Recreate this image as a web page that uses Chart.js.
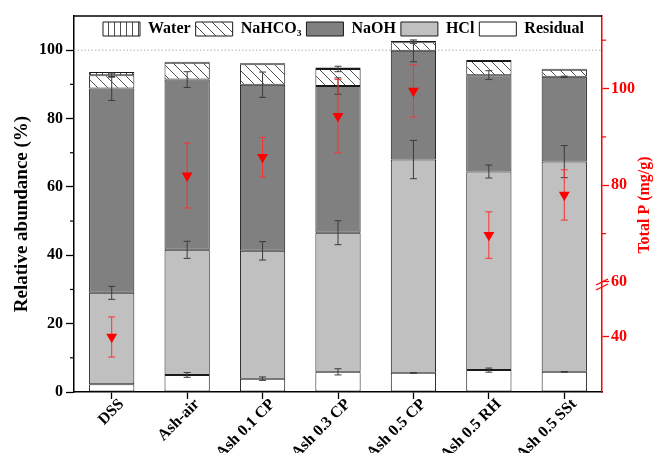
<!DOCTYPE html>
<html><head><meta charset="utf-8">
<script src="https://cdn.jsdelivr.net/npm/chart.js@4.4.0/dist/chart.umd.min.js"></script>
<style>html,body{margin:0;padding:0;background:#fff;} #wrap{width:654px;height:453px;}</style>
</head><body><div id="wrap"><canvas id="c" width="654" height="453"></canvas></div>
<script>
// ---------- data ----------
const categories = ['DSS', 'Ash-air', 'Ash 0.1 CP', 'Ash 0.3 CP', 'Ash 0.5 CP', 'Ash 0.5 RH', 'Ash 0.5 SSt'];
const residual   = [2.3, 5.0, 3.9, 5.9, 5.6, 6.4, 5.9];
const hcl        = [26.7, 36.6, 37.4, 40.7, 62.4, 58.1, 61.5];
const naoh       = [59.8, 49.8, 48.6, 42.9, 31.8, 28.2, 24.8];
const nahco3     = [3.9, 4.9, 6.0, 5.0, 2.5, 4.1, 2.1];
const water      = [0.9, 0.3, 0.3, 0.4, 0.4, 0.3, 0.3];
const residualErr = [0, 0.7, 0.5, 0.9, 0.1, 0.6, 0.1];
const hclErr      = [1.9, 2.5, 2.7, 3.5, 5.6, 1.9, 4.7];
const naohErr     = [3.5, 2.3, 3.7, 2.4, 3.2, 1.3, 0.2];
const nahco3Err   = [0.6, 0, 0, 0.8, 0.3, 0, 0];
const waterErr    = [0, 0, 0, 0, 0, 0, 0];
const totalP      = [40.0, 82.0, 85.8, 94.3, 99.5, 69.7, 78.0];
const totalPErr   = [7.3, 6.7, 4.1, 7.6, 5.4, 4.8, 5.2];
const leftTicks   = [0, 20, 40, 60, 80, 100];
const leftMinor   = [10, 30, 50, 70, 90];
const rightTicks  = [40, 60, 80, 100];
const rightMinor  = [70, 90, 110];

// ---------- setup ----------
const FONT = '"Liberation Serif", "Times New Roman", serif';
Chart.defaults.font.family = FONT;
Chart.defaults.font.size = 16;
Chart.defaults.font.weight = 'bold';
Chart.defaults.color = '#000';

function makePattern(kind) {
  const s = kind === 'hatch' ? 10 : 6;
  const c = document.createElement('canvas');
  c.width = s; c.height = s;
  const g = c.getContext('2d');
  g.fillStyle = '#fff'; g.fillRect(0, 0, s, s);
  g.strokeStyle = '#3a3a3a'; g.lineWidth = 0.9;
  g.beginPath();
  if (kind === 'hatch') {
    g.moveTo(-1, -1); g.lineTo(s + 1, s + 1);
    g.moveTo(-1, s - 1); g.lineTo(1, s + 1);
    g.moveTo(s - 1, -1); g.lineTo(s + 1, 1);
  } else {
    g.moveTo(0.5, 0); g.lineTo(0.5, s);
  }
  g.stroke();
  return g.createPattern(c, 'repeat');
}

// broken right axis: [20,60] on lower part, [60,115] on upper part
const BRK = {lo: 20, mid: 60, hi: 115, frac: 0.2926};
function brokenFrac(v) {
  if (v <= BRK.mid) return (v - BRK.lo) / (BRK.mid - BRK.lo) * BRK.frac;
  return BRK.frac + (v - BRK.mid) / (BRK.hi - BRK.mid) * (1 - BRK.frac);
}
function brokenVal(d) {
  if (d <= BRK.frac) return BRK.lo + d / BRK.frac * (BRK.mid - BRK.lo);
  return BRK.mid + (d - BRK.frac) / (1 - BRK.frac) * (BRK.hi - BRK.mid);
}
class BrokenScale extends Chart.LinearScale {
  getPixelForValue(value) { return this.getPixelForDecimal(brokenFrac(value)); }
  getValueForPixel(pixel) { return brokenVal(this.getDecimalForPixel(pixel)); }
}
BrokenScale.id = 'broken';
BrokenScale.defaults = Chart.LinearScale.defaults;
Chart.register(BrokenScale);

const errSets = [residualErr, hclErr, naohErr, nahco3Err, waterErr];

const barStyle = {borderColor: '#1a1a1a', borderWidth: 1, borderSkipped: false,
  barPercentage: 1, categoryPercentage: 0.6, yAxisID: 'y', order: 1};

function vErr(ctx, x, y1, y2, color, cap) {
  ctx.strokeStyle = color; ctx.lineWidth = 1;
  ctx.beginPath();
  ctx.moveTo(x, y1); ctx.lineTo(x, y2);
  ctx.moveTo(x - cap, y1); ctx.lineTo(x + cap, y1);
  ctx.moveTo(x - cap, y2); ctx.lineTo(x + cap, y2);
  ctx.stroke();
}

const decor = {
  id: 'decor',
  afterInit(chart) {
    const lg = chart.legend;
    if (lg && !lg._patched) {
      const f = lg.fit;
      lg.fit = function () { f.call(this); this.height = 0; };
      lg._patched = true;
    }
  },
  beforeDraw(chart) {
    const lg = chart.legend;
    lg.left = 98; lg.right = 654; lg.width = 556; lg.top = 16; lg.bottom = 40; lg.height = 24;
  },
  beforeDatasetsDraw(chart) {
    const {ctx, chartArea: a, scales: {y}} = chart;
    const py = y.getPixelForValue(100);
    ctx.save();
    ctx.strokeStyle = '#b0b0b0'; ctx.lineWidth = 1; ctx.setLineDash([1.5, 2]);
    ctx.beginPath(); ctx.moveTo(a.left, py); ctx.lineTo(a.right, py); ctx.stroke();
    ctx.restore();
  },
  beforeDatasetDraw(chart, args) {
    if (args.index !== 5) return;
    const {ctx, scales: {x, y, y2}} = chart;
    ctx.save();
    for (let d = 0; d < 5; d++) {
      const meta = chart.getDatasetMeta(d);
      meta.data.forEach((el, j) => {
        const e = errSets[d][j];
        if (!e) return;
        const dy = y.getPixelForValue(0) - y.getPixelForValue(e);
        vErr(ctx, el.x, el.y - dy, el.y + dy, '#3a3a3a', 3.5);
      });
    }
    totalP.forEach((v, j) => {
      const px = x.getPixelForValue(j);
      vErr(ctx, px, y2.getPixelForValue(v + totalPErr[j]), y2.getPixelForValue(v - totalPErr[j]), '#ff3030', 3.5);
    });
    ctx.restore();
  },
  afterDraw(chart) {
    const {ctx, chartArea: a, scales: {y, y2}} = chart;
    ctx.save();
    // top frame
    ctx.strokeStyle = '#000'; ctx.lineWidth = 1.5;
    ctx.beginPath(); ctx.moveTo(a.left - 0.75, a.top); ctx.lineTo(a.right, a.top); ctx.stroke();
    // minor ticks
    ctx.lineWidth = 1.2;
    leftMinor.forEach(v => {
      const p = y.getPixelForValue(v);
      ctx.beginPath(); ctx.moveTo(a.left, p); ctx.lineTo(a.left - 4, p); ctx.stroke();
    });
    ctx.strokeStyle = '#ff0000';
    rightMinor.forEach(v => {
      const p = y2.getPixelForValue(v);
      ctx.beginPath(); ctx.moveTo(a.right, p); ctx.lineTo(a.right + 4, p); ctx.stroke();
    });
    // axis break marks
    const pb = y2.getPixelForValue(BRK.mid);
    ctx.lineWidth = 1.3;
    ctx.beginPath();
    ctx.moveTo(a.right - 6, pb + 3); ctx.lineTo(a.right + 6, pb - 3);
    ctx.moveTo(a.right - 6, pb + 8); ctx.lineTo(a.right + 6, pb + 2);
    ctx.stroke();
    ctx.restore();
    // left axis title
    ctx.save();
    ctx.translate(22, 214);
    ctx.rotate(-Math.PI / 2);
    ctx.fillStyle = '#000';
    ctx.font = 'bold 19px ' + FONT;
    ctx.textAlign = 'center'; ctx.textBaseline = 'middle';
    ctx.fillText('Relative abundance (%)', 0, 0);
    ctx.restore();
    // right axis title
    ctx.save();
    ctx.translate(645, 205);
    ctx.rotate(-Math.PI / 2);
    ctx.fillStyle = '#ff0000';
    ctx.font = 'bold 16px ' + FONT;
    ctx.textAlign = 'center'; ctx.textBaseline = 'middle';
    ctx.fillText('Total P (mg/g)', 0, 0);
    ctx.restore();
  }
};

new Chart(document.getElementById('c'), {
  type: 'bar',
  data: {
    labels: categories,
    datasets: [
      {label: 'Residual', data: residual, backgroundColor: '#ffffff', ...barStyle},
      {label: 'HCl', data: hcl, backgroundColor: '#c0c0c0', ...barStyle},
      {label: 'NaOH', data: naoh, backgroundColor: '#808080', ...barStyle},
      {label: 'NaHCO\u2083', data: nahco3, backgroundColor: makePattern('hatch'), ...barStyle},
      {label: 'Water', data: water, backgroundColor: makePattern('vlines'), ...barStyle},
      {type: 'line', label: 'Total P', data: totalP, yAxisID: 'y2', showLine: false,
       pointStyle: 'triangle', rotation: 180, pointRadius: 6.3, pointBackgroundColor: '#ff0000',
       pointBorderColor: '#ff0000', pointBorderWidth: 0, backgroundColor: '#ff0000', borderColor: '#ff0000', order: 0}
    ]
  },
  options: {
    responsive: false,
    animation: false,
    events: [],
    layout: {padding: {top: 16, left: 0, right: 0, bottom: 0}},
    plugins: {
      tooltip: {enabled: false},
      legend: {
        display: true, position: 'top', align: 'start', reverse: true,
        labels: {boxWidth: 37, boxHeight: 14, padding: 5, color: '#000',
          font: {size: 16, weight: 'bold', family: FONT},
          filter: item => item.datasetIndex < 5}
      }
    },
    scales: {
      x: {
        type: 'category', offset: true, stacked: true,
        afterFit: s => { s.height = 61; },
        grid: {drawOnChartArea: false, offset: false, tickLength: 7, tickColor: '#000', tickWidth: 1.3},
        border: {color: '#000', width: 1.5},
        ticks: {autoSkip: false, minRotation: 45, maxRotation: 45, padding: -4, labelOffset: 10,
          color: '#000', font: {size: 16, weight: 'bold'}}
      },
      y: {
        type: 'linear', position: 'left', min: 0, max: 110, stacked: true,
        afterBuildTicks: s => { s.ticks = leftTicks.map(v => ({value: v})); },
        afterFit: s => { s.width = 74; },
        grid: {drawOnChartArea: false, tickLength: 8, tickColor: '#000', tickWidth: 1.3},
        border: {color: '#000', width: 1.5},
        ticks: {padding: 3, color: '#000', font: {size: 16, weight: 'bold'}, callback: v => String(v)}
      },
      y2: {
        type: 'broken', position: 'right', min: 20, max: 115,
        afterBuildTicks: s => { s.ticks = rightTicks.map(v => ({value: v})); },
        afterFit: s => { s.width = 52; },
        grid: {drawOnChartArea: false, tickLength: 7, tickColor: '#ff0000', tickWidth: 1.3},
        border: {color: '#ff0000', width: 1.5},
        ticks: {padding: 2, color: '#ff0000', font: {size: 16, weight: 'bold'}, callback: v => String(v)}
      }
    }
  },
  plugins: [decor]
});
</script>
</body></html>
